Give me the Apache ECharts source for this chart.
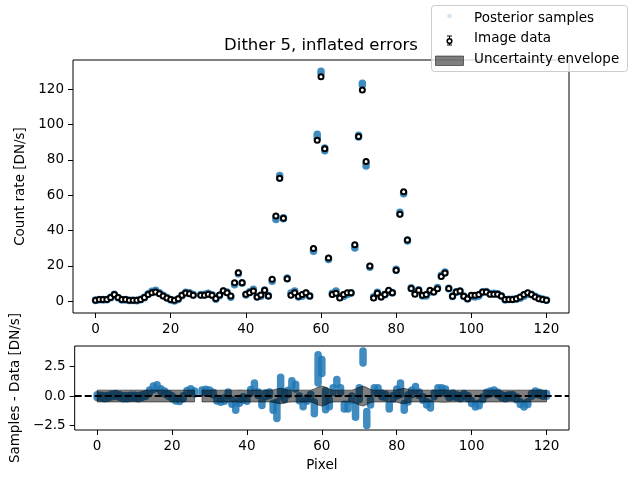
<!DOCTYPE html>
<html>
<head>
<meta charset="utf-8">
<script src="https://cdn.jsdelivr.net/npm/echarts@6/dist/echarts.min.js"></script>
<style>
html, body { margin: 0; padding: 0; background: #fff; }
#chart { width: 635px; height: 483px; }
</style>
</head>
<body>
<div id="chart"></div>
<script>
// measured count rate per pixel (index = pixel), pixel 27 masked
var countRate = [
  0.6, 1.0, 1.0, 1.0, 2.1, 3.8, 2.1, 1.0, 1.0, 0.6,
  0.6, 0.6, 1.0, 2.1, 3.8, 4.9, 5.3, 4.3, 3.0, 1.9,
  1.0, 0.6, 1.5, 3.4, 4.7, 4.3, 3.4, null, 3.4, 3.4,
  4.0, 3.4, 1.6, 3.6, 6.0, 4.9, 3.0, 10.5, 16.2, 10.5,
  4.0, 4.9, 5.8, 2.4, 3.6, 6.2, 3.0, 12.5, 48.2, 69.5,
  47.0, 12.7, 3.4, 4.9, 2.8, 3.8, 4.9, 3.0, 29.8, 91.0,
  127.0, 86.2, 24.5, 3.8, 4.5, 1.9, 3.8, 4.9, 4.9, 32.0,
  93.2, 119.4, 79.0, 20.0, 1.9, 4.5, 2.5, 3.8, 6.2, 4.9,
  17.5, 49.2, 62.0, 34.6, 7.2, 4.0, 6.2, 3.4, 3.8, 6.2,
  5.3, 7.1, 14.1, 16.0, 7.2, 2.8, 5.3, 5.8, 2.8, 1.5,
  3.4, 3.4, 3.8, 5.3, 5.3, 4.0, 4.0, 4.0, 3.0, 1.0,
  1.1, 1.1, 1.5, 2.5, 3.8, 4.9, 3.8, 2.5, 1.5, 1.1,
  0.6
];

// posterior samples minus data: centre and half spread of the sample cloud
var residMid = [
  0.0, -0.05, -0.1, -0.05, 0.05, 0.1, 0.0, -0.1, -0.1, -0.05,
  -0.05, -0.1, 0.0, 0.1, 0.4, 0.7, 0.8, 0.5, 0.3, 0.1,
  -0.1, -0.3, -0.35, -0.1, 0.35, 0.5, 0.3, null, 0.4, 0.45,
  0.4, 0.2, -0.3, -0.4, -0.3, 0.2, -0.5, -0.9, -0.4, -0.2,
  -0.3, 0.4, 0.9, 0.2, -0.6, 0.1, 0.2, -0.9, -1.2, 0.8,
  0.0, 0.3, 1.1, 0.8, -0.2, -0.7, -0.3, 0.0, -1.0, 2.3,
  2.5, -0.35, -0.6, 0.5, 1.2, 0.5, -0.9, -0.9, -0.2, -1.3,
  0.2, 3.3, -1.9, -0.5, 0.5, 0.5, 0.1, 0.0, -0.9, -0.1,
  0.3, 0.6, -0.9, -0.2, 0.3, 0.65, 0.2, -0.2, -0.6, -0.8,
  0.1, 0.5, 0.5, 0.4, 0.0, 0.1, 0.0, -0.1, 0.1, -0.1,
  -0.5, -0.8, -0.7, -0.2, 0.2, 0.3, 0.4, 0.2, 0.0, -0.1,
  0.0, 0.0, -0.2, -0.6, -0.8, -0.6, 0.1, 0.3, 0.2, 0.1,
  0.1
];
var residHalf = [
  0.12, 0.12, 0.12, 0.12, 0.12, 0.12, 0.12, 0.12, 0.12, 0.12,
  0.12, 0.12, 0.12, 0.12, 0.12, 0.15, 0.15, 0.12, 0.12, 0.12,
  0.12, 0.12, 0.12, 0.12, 0.12, 0.12, 0.12, null, 0.12, 0.12,
  0.12, 0.12, 0.12, 0.12, 0.15, 0.15, 0.2, 0.3, 0.2, 0.15,
  0.15, 0.15, 0.2, 0.15, 0.2, 0.15, 0.15, 0.3, 0.7, 0.8,
  0.3, 0.2, 0.2, 0.2, 0.2, 0.2, 0.15, 0.15, 0.5, 1.2,
  0.6, 0.8, 0.3, 0.2, 0.2, 0.2, 0.2, 0.2, 0.2, 0.5,
  0.5, 0.5, 0.6, 0.25, 0.2, 0.2, 0.15, 0.15, 0.2, 0.15,
  0.3, 0.5, 0.3, 0.3, 0.2, 0.15, 0.15, 0.15, 0.15, 0.2,
  0.15, 0.2, 0.2, 0.2, 0.15, 0.15, 0.12, 0.12, 0.12, 0.12,
  0.12, 0.12, 0.12, 0.12, 0.12, 0.12, 0.12, 0.12, 0.12, 0.12,
  0.12, 0.12, 0.12, 0.12, 0.12, 0.12, 0.12, 0.12, 0.12, 0.12,
  0.12
];

// 1-sigma (inflated) data uncertainty, used for error bars and envelope
var envHalf = [
  0.5, 0.5, 0.5, 0.5, 0.5, 0.5, 0.5, 0.5, 0.5, 0.5,
  0.5, 0.5, 0.5, 0.5, 0.5, 0.5, 0.5, 0.5, 0.5, 0.5,
  0.5, 0.5, 0.5, 0.5, 0.5, 0.5, 0.5, null, 0.5, 0.5,
  0.5, 0.5, 0.5, 0.5, 0.5, 0.5, 0.5, 0.5, 0.52, 0.5,
  0.5, 0.5, 0.5, 0.5, 0.5, 0.5, 0.5, 0.52, 0.6, 0.65,
  0.6, 0.52, 0.5, 0.5, 0.5, 0.5, 0.5, 0.5, 0.6, 0.75,
  0.85, 0.75, 0.58, 0.5, 0.5, 0.5, 0.5, 0.5, 0.5, 0.6,
  0.75, 0.85, 0.72, 0.55, 0.5, 0.5, 0.5, 0.5, 0.5, 0.5,
  0.52, 0.6, 0.65, 0.57, 0.5, 0.5, 0.5, 0.5, 0.5, 0.5,
  0.5, 0.5, 0.52, 0.52, 0.5, 0.5, 0.5, 0.5, 0.5, 0.5,
  0.5, 0.5, 0.5, 0.5, 0.5, 0.5, 0.5, 0.5, 0.5, 0.5,
  0.5, 0.5, 0.5, 0.5, 0.5, 0.5, 0.5, 0.5, 0.5, 0.5,
  0.5
];

var xTicks = [0, 20, 40, 60, 80, 100, 120];
var topYTicks = [0, 20, 40, 60, 80, 100, 120];
var botYTicks = [-2.5, 0, 2.5];

var FONT = 'DejaVu Sans';
var BLUE = '#1f77b4';

var topSamples = [], botSamples = [], dataPts = [], errPts = [];
for (var i = 0; i < countRate.length; i++) {
  if (countRate[i] === null) continue;
  var lo = residMid[i] - residHalf[i], hi = residMid[i] + residHalf[i];
  topSamples.push([i, countRate[i] + lo, countRate[i] + hi]);
  botSamples.push([i, lo, hi]);
  dataPts.push([i, countRate[i]]);
  errPts.push([i, countRate[i], envHalf[i]]);
}

function drawCloud(params, api) {
  var p1 = api.coord([api.value(0), api.value(1)]);
  var p2 = api.coord([api.value(0), api.value(2)]);
  return {
    type: 'line',
    shape: { x1: p1[0], y1: p1[1], x2: p2[0], y2: p2[1] + 0.01 },
    style: { stroke: BLUE, lineWidth: 7.5, lineCap: 'round', opacity: 0.85 }
  };
}

function drawErr(params, api) {
  var x = api.value(0), y = api.value(1), e = api.value(2);
  var a = api.coord([x, y + e]), b = api.coord([x, y - e]);
  var st = { stroke: '#000', lineWidth: 1 };
  return {
    type: 'group',
    children: [
      { type: 'line', shape: { x1: a[0], y1: a[1], x2: b[0], y2: b[1] }, style: st },
      { type: 'line', shape: { x1: a[0] - 2.5, y1: a[1], x2: a[0] + 2.5, y2: a[1] }, style: st },
      { type: 'line', shape: { x1: b[0] - 2.5, y1: b[1], x2: b[0] + 2.5, y2: b[1] }, style: st }
    ]
  };
}

// envelope: one polygon per run of unmasked pixels
function drawBand(params, api) {
  var runs = [], cur = [];
  for (var k = 0; k < envHalf.length; k++) {
    if (envHalf[k] === null) { if (cur.length) runs.push(cur); cur = []; }
    else cur.push(k);
  }
  if (cur.length) runs.push(cur);
  var kids = runs.map(function (run) {
    var pts = [];
    run.forEach(function (k) { pts.push(api.coord([k, envHalf[k]])); });
    run.slice().reverse().forEach(function (k) { pts.push(api.coord([k, -envHalf[k]])); });
    return {
      type: 'polygon',
      shape: { points: pts },
      style: { fill: 'rgba(0,0,0,0.5)', stroke: 'rgba(0,0,0,0.5)', lineWidth: 1 }
    };
  });
  return { type: 'group', children: kids };
}

var tickLabel = { color: '#000', fontFamily: FONT, fontSize: 13.5, margin: 9 };
var nameStyle = { color: '#000', fontFamily: FONT, fontSize: 13.5 };
var tickStyle = { show: true, length: 5, lineStyle: { color: '#000', width: 1 } };

function xAxisFor(idx, withName) {
  return {
    type: 'value', gridIndex: idx, min: -6, max: 126,
    axisLine: { show: false, onZero: false }, splitLine: { show: false },
    axisTick: Object.assign({ customValues: xTicks }, tickStyle),
    axisLabel: Object.assign({ customValues: xTicks }, tickLabel),
    name: withName ? 'Pixel' : '', nameLocation: 'middle', nameGap: 28,
    nameTextStyle: nameStyle
  };
}

var chart = echarts.init(document.getElementById('chart'));
chart.setOption({
  animation: false,
  backgroundColor: '#fff',
  grid: [
    { left: 73, top: 60, width: 496, height: 253, show: true, borderColor: '#000', borderWidth: 1, backgroundColor: 'transparent' },
    { left: 73, top: 346, width: 496, height: 84, show: true, borderColor: '#000', borderWidth: 1, backgroundColor: 'transparent' }
  ],
  xAxis: [xAxisFor(0, false), xAxisFor(1, true)],
  yAxis: [
    {
      type: 'value', gridIndex: 0, min: -6.6, max: 136.4,
      axisLine: { show: false, onZero: false }, splitLine: { show: false },
      axisTick: Object.assign({ customValues: topYTicks }, tickStyle),
      axisLabel: Object.assign({ customValues: topYTicks }, tickLabel),
      name: 'Count rate [DN/s]', nameLocation: 'middle', nameGap: 42,
      nameTextStyle: nameStyle
    },
    {
      type: 'value', gridIndex: 1, min: -2.87, max: 4.23,
      axisLine: { show: false, onZero: false }, splitLine: { show: false },
      axisTick: Object.assign({ customValues: botYTicks }, tickStyle),
      axisLabel: Object.assign({
        customValues: botYTicks,
        formatter: function (v) { return v.toFixed(1).replace('-', '\u2212'); }
      }, tickLabel),
      name: 'Samples - Data [DN/s]', nameLocation: 'middle', nameGap: 51,
      nameTextStyle: nameStyle
    }
  ],
  series: [
    { name: 'Posterior samples', type: 'custom', xAxisIndex: 0, yAxisIndex: 0, renderItem: drawCloud, data: topSamples, z: 2 },
    { name: 'Image data err', type: 'custom', xAxisIndex: 0, yAxisIndex: 0, renderItem: drawErr, data: errPts, z: 3 },
    {
      name: 'Image data', type: 'scatter', xAxisIndex: 0, yAxisIndex: 0, data: dataPts, z: 4,
      symbol: 'circle', symbolSize: 5,
      itemStyle: { color: '#fff', borderColor: '#000', borderWidth: 2, opacity: 1 }
    },
    { name: 'Posterior samples (resid)', type: 'custom', xAxisIndex: 1, yAxisIndex: 1, renderItem: drawCloud, data: botSamples, z: 2 },
    { name: 'Uncertainty envelope', type: 'custom', xAxisIndex: 1, yAxisIndex: 1, renderItem: drawBand, data: [[0, 0]], z: 3 },
    {
      name: 'zero', type: 'line', xAxisIndex: 1, yAxisIndex: 1, data: [[-6, 0], [126, 0]], z: 5,
      symbol: 'none', lineStyle: { color: '#000', width: 2, type: [7, 3] }
    }
  ],
  graphic: [
    {
      type: 'text', x: 321, y: 46, z: 10,
      style: { text: 'Dither 5, inflated errors', fill: '#000', font: '16.5px "DejaVu Sans"', textAlign: 'center', textVerticalAlign: 'middle' }
    },
    {
      type: 'group', z: 20,
      children: [
        { type: 'rect', shape: { x: 431.5, y: 5.5, width: 196, height: 66, r: 3 }, style: { fill: 'rgba(255,255,255,0.8)', stroke: '#cccccc', lineWidth: 1 } },
        { type: 'circle', shape: { cx: 449.5, cy: 16, r: 2.3 }, style: { fill: 'rgba(31,119,180,0.2)' } },
        { type: 'line', shape: { x1: 449.5, y1: 36, x2: 449.5, y2: 45 }, style: { stroke: '#000', lineWidth: 1 } },
        { type: 'line', shape: { x1: 447, y1: 36, x2: 452, y2: 36 }, style: { stroke: '#000', lineWidth: 1 } },
        { type: 'line', shape: { x1: 447, y1: 45, x2: 452, y2: 45 }, style: { stroke: '#000', lineWidth: 1 } },
        { type: 'circle', shape: { cx: 449.5, cy: 41, r: 2.3 }, style: { fill: '#fff', stroke: '#000', lineWidth: 1.6 } },
        { type: 'rect', shape: { x: 435.5, y: 56, width: 28, height: 9.5 }, style: { fill: 'rgba(0,0,0,0.5)', stroke: 'rgba(0,0,0,0.5)', lineWidth: 1 } },
        { type: 'text', x: 474, y: 18, style: { text: 'Posterior samples', fill: '#000', font: '13.5px "DejaVu Sans"', textVerticalAlign: 'middle' } },
        { type: 'text', x: 474, y: 38.5, style: { text: 'Image data', fill: '#000', font: '13.5px "DejaVu Sans"', textVerticalAlign: 'middle' } },
        { type: 'text', x: 474, y: 59, style: { text: 'Uncertainty envelope', fill: '#000', font: '13.5px "DejaVu Sans"', textVerticalAlign: 'middle' } }
      ]
    }
  ]
});
</script>
</body>
</html>
